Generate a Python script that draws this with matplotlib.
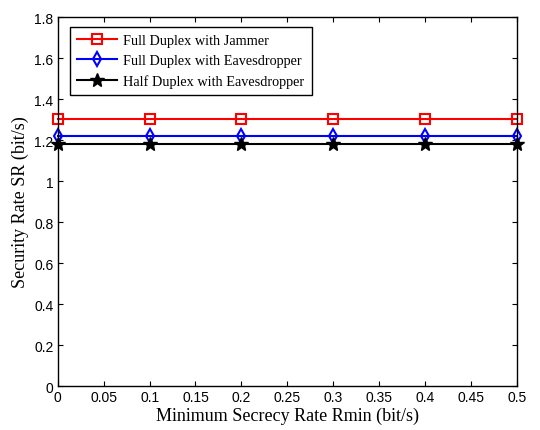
import matplotlib
matplotlib.use("Agg")
import matplotlib.pyplot as plt

rmin = [0, 0.1, 0.2, 0.3, 0.4, 0.5]
fd_jammer = [1.305, 1.305, 1.305, 1.305, 1.305, 1.305]
fd_eaves = [1.22, 1.22, 1.22, 1.22, 1.22, 1.22]
hd_eaves = [1.183, 1.183, 1.183, 1.183, 1.183, 1.183]

xticks = [0, 0.05, 0.1, 0.15, 0.2, 0.25, 0.3, 0.35, 0.4, 0.45, 0.5]
xticklabels = ["0", "0.05", "0.1", "0.15", "0.2", "0.25", "0.3", "0.35", "0.4", "0.45", "0.5"]
yticks = [0, 0.2, 0.4, 0.6, 0.8, 1, 1.2, 1.4, 1.6, 1.8]
yticklabels = ["0", "0.2", "0.4", "0.6", "0.8", "1", "1.2", "1.4", "1.6", "1.8"]

fig = plt.figure(figsize=(5.4, 4.31), dpi=100)
ax = fig.add_axes([0.107, 0.102, 0.850, 0.856])

ax.plot(rmin, fd_jammer, color='red', marker='s', markersize=6.5, markerfacecolor='none',
        markeredgewidth=1.5, linewidth=1.5, label="Full Duplex with Jammer", clip_on=False)
ax.plot(rmin, fd_eaves, color='blue', marker='d', markersize=7, markerfacecolor='none',
        markeredgewidth=1.5, linewidth=1.5, label="Full Duplex with Eavesdropper", clip_on=False)
ax.plot(rmin, hd_eaves, color='black', marker='*', markersize=10,
        linewidth=1.5, label="Half Duplex with Eavesdropper", clip_on=False)

ax.set_xlim(0, 0.5)
ax.set_ylim(0, 1.8)
ax.set_xticks(xticks)
ax.set_xticklabels(xticklabels, family='Liberation Sans', fontsize=10)
ax.set_yticks(yticks)
ax.set_yticklabels(yticklabels, family='Liberation Sans', fontsize=10)
ax.tick_params(direction='in', top=True, right=True, length=3.5, width=0.8, pad=3)
for s in ax.spines.values():
    s.set_linewidth(1.0)

ax.set_xlabel("Minimum Secrecy Rate Rmin (bit/s)", family='Liberation Serif', fontsize=13, labelpad=2)
ax.set_ylabel("Security Rate SR (bit/s)", family='Liberation Serif', fontsize=13, labelpad=4)

leg = ax.legend(loc='upper left', bbox_to_anchor=(0.026, 0.973), borderaxespad=0,
                prop={'family': 'Liberation Serif', 'size': 10.3},
                fancybox=False, edgecolor='black', framealpha=1, handlelength=2.8,
                handletextpad=0.45, borderpad=0.5, labelspacing=0.5)
leg.get_frame().set_linewidth(1.0)

fig.savefig("out.png", dpi=100)
